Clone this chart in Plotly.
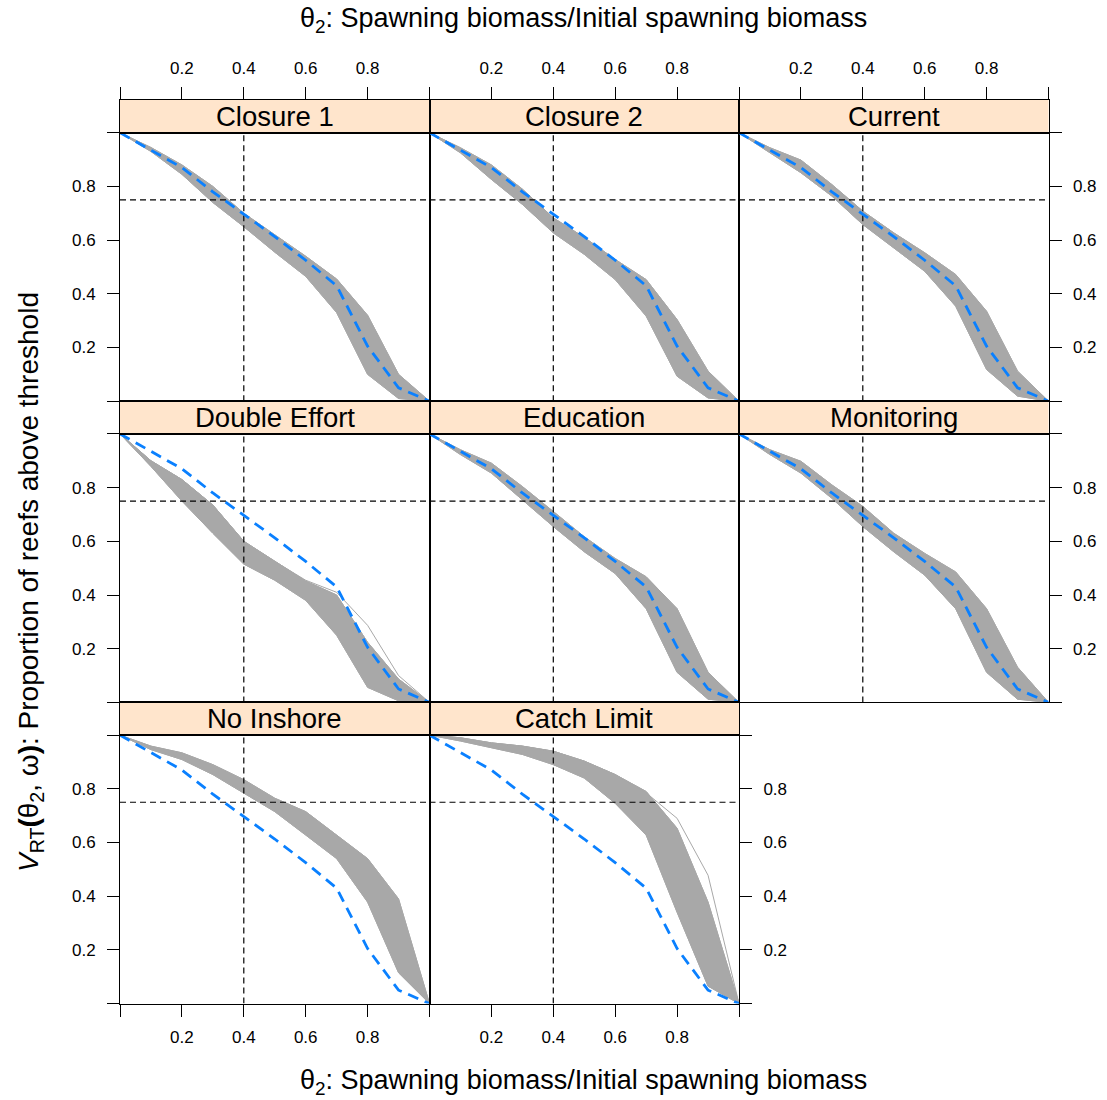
import plotly.graph_objects as go

# ---------------- data ----------------
theta2 = [0.0, 0.1, 0.2, 0.3, 0.4, 0.5, 0.6, 0.7, 0.8, 0.9, 1.0]

panel_names = ["Closure 1", "Closure 2", "Current", "Double Effort",
               "Education", "Monitoring", "No Inshore", "Catch Limit"]

# baseline (blue dashed) curve, same in every panel
baseline = [1.0, 0.935, 0.87, 0.78, 0.697, 0.613, 0.525, 0.43, 0.205, 0.05, 0.0]

# envelopes of the grey ensemble per panel
closure1_upper = [1.0, 0.945, 0.88, 0.80, 0.70, 0.62, 0.54, 0.455, 0.32, 0.10, 0.0]
closure1_lower = [1.0, 0.93, 0.845, 0.74, 0.65, 0.555, 0.465, 0.33, 0.10, 0.01, 0.0]

closure2_upper = [1.0, 0.944, 0.88, 0.79, 0.683, 0.61, 0.528, 0.453, 0.304, 0.112, 0.0]
closure2_lower = [1.0, 0.925, 0.826, 0.733, 0.627, 0.547, 0.453, 0.317, 0.093, 0.012, 0.0]

current_upper = [1.0, 0.944, 0.898, 0.807, 0.708, 0.627, 0.553, 0.472, 0.335, 0.112, 0.0]
current_lower = [1.0, 0.925, 0.851, 0.764, 0.658, 0.571, 0.484, 0.354, 0.118, 0.019, 0.0]

double_upper = [1.0, 0.90, 0.83, 0.735, 0.60, 0.525, 0.452, 0.40, 0.224, 0.087, 0.0]
double_lower = [1.0, 0.879, 0.75, 0.63, 0.515, 0.455, 0.38, 0.25, 0.056, 0.006, 0.0]
double_outlier = [1.0, 0.90, 0.83, 0.735, 0.60, 0.525, 0.455, 0.41, 0.287, 0.10, 0.0]

education_upper = [1.0, 0.941, 0.891, 0.804, 0.711, 0.617, 0.536, 0.468, 0.349, 0.112, 0.0]
education_lower = [1.0, 0.923, 0.854, 0.754, 0.655, 0.561, 0.48, 0.349, 0.112, 0.012, 0.0]

monitoring_upper = [1.0, 0.941, 0.898, 0.81, 0.73, 0.63, 0.555, 0.486, 0.349, 0.131, 0.0]
monitoring_lower = [1.0, 0.923, 0.854, 0.76, 0.655, 0.561, 0.474, 0.349, 0.112, 0.012, 0.0]

inshore_upper = [1.0, 0.959, 0.934, 0.89, 0.834, 0.765, 0.715, 0.628, 0.54, 0.39, 0.0]
inshore_lower = [1.0, 0.946, 0.909, 0.853, 0.784, 0.715, 0.628, 0.54, 0.378, 0.115, 0.0]

catch_upper = [1.0, 0.99, 0.971, 0.959, 0.94, 0.903, 0.853, 0.79, 0.653, 0.378, 0.0]
catch_lower = [1.0, 0.978, 0.953, 0.928, 0.89, 0.84, 0.746, 0.628, 0.34, 0.065, 0.0]
catch_outlier = [1.0, 0.99, 0.971, 0.959, 0.94, 0.903, 0.853, 0.785, 0.69, 0.478, 0.0]

uppers = [closure1_upper, closure2_upper, current_upper, double_upper,
          education_upper, monitoring_upper, inshore_upper, catch_upper]
lowers = [closure1_lower, closure2_lower, current_lower, double_lower,
          education_lower, monitoring_lower, inshore_lower, catch_lower]
outliers = {3: double_outlier, 7: catch_outlier}

theta_threshold = 0.4
prop_threshold = 0.75

tick_vals = [0.0, 0.2, 0.4, 0.6, 0.8, 1.0]
tick_text = ["", "0.2", "0.4", "0.6", "0.8", ""]

# ---------------- layout geometry ----------------
W, H = 1107, 1100
col_edges = [120, 429.5, 739, 1048.5]
row_top = [100, 401.2, 702.4]
strip_h = 32.7
panel_h = 268.5

FONT = "Liberation Sans, Arial, Helvetica, sans-serif"
GREY = "#A8A8A8"
BLUE = "#0A80FF"

def px_x(p):
    return p / W

def px_y(p):
    return 1 - p / H

fig = go.Figure()
layout = dict(
    width=W, height=H,
    margin=dict(l=0, r=0, t=0, b=0, autoexpand=False),
    paper_bgcolor="white",
    plot_bgcolor="rgba(0,0,0,0)",
    showlegend=False,
    font=dict(family=FONT, color="black", size=17),
)
shapes = []
annotations = []

for i, name in enumerate(panel_names):
    r, c = divmod(i, 3)
    n = i + 1          # panel axes
    s = i + 9          # strip axes
    x0, x1 = px_x(col_edges[c]), px_x(col_edges[c + 1])
    st = row_top[r]
    sb = st + strip_h
    pb = sb + panel_h
    pdom = [px_y(pb), px_y(sb)]
    sdom = [px_y(sb), px_y(st)]

    xa = f"x{n}"
    ya = f"y{n}"

    # grey ensemble band
    up, lo = uppers[i], lowers[i]
    fig.add_trace(go.Scatter(
        x=theta2 + theta2[::-1], y=up + lo[::-1],
        mode="lines", fill="toself", fillcolor=GREY,
        line=dict(color=GREY, width=1), hoverinfo="skip",
        xaxis=xa, yaxis=ya))
    for arr in (up, lo):
        fig.add_trace(go.Scatter(x=theta2, y=arr, mode="lines",
                                 line=dict(color=GREY, width=1),
                                 hoverinfo="skip", xaxis=xa, yaxis=ya))
    if i in outliers:
        fig.add_trace(go.Scatter(x=theta2, y=outliers[i], mode="lines",
                                 line=dict(color=GREY, width=1),
                                 hoverinfo="skip", xaxis=xa, yaxis=ya))

    # reference lines
    fig.add_trace(go.Scatter(x=[theta_threshold, theta_threshold], y=[0, 1],
                             mode="lines",
                             line=dict(color="black", width=1.2, dash="6px,4px"),
                             hoverinfo="skip", xaxis=xa, yaxis=ya))
    fig.add_trace(go.Scatter(x=[0, 1], y=[prop_threshold, prop_threshold],
                             mode="lines",
                             line=dict(color="black", width=1.2, dash="6px,4px"),
                             hoverinfo="skip", xaxis=xa, yaxis=ya))

    # baseline
    fig.add_trace(go.Scatter(x=theta2, y=baseline, mode="lines",
                             line=dict(color=BLUE, width=2.8, dash="11px,7px"),
                             hoverinfo="skip", xaxis=xa, yaxis=ya))

    # panel axes
    bottom = (r == 2)
    xaxis = dict(domain=[x0, x1], range=[0, 1], anchor=ya, automargin=False,
                 showline=True, mirror=True, linecolor="black", linewidth=1,
                 showgrid=False, zeroline=False, fixedrange=True)
    if bottom:
        xaxis.update(ticks="outside", ticklen=12, tickwidth=1, tickcolor="black",
                     tickvals=tick_vals, ticktext=tick_text,
                     showticklabels=True, ticklabelstandoff=6,
                     tickfont=dict(size=17, family=FONT, color="black"))
    else:
        xaxis.update(ticks="", showticklabels=False)

    yaxis = dict(domain=pdom, range=[0, 1], anchor=xa, automargin=False,
                 showline=True, mirror=True, linecolor="black", linewidth=1,
                 showgrid=False, zeroline=False, fixedrange=True)
    if c == 0:
        yaxis.update(side="left", ticks="outside", ticklen=12, tickwidth=1,
                     tickcolor="black", tickvals=tick_vals, ticktext=tick_text,
                     showticklabels=True, ticklabelstandoff=8,
                     tickfont=dict(size=17, family=FONT, color="black"))
    elif c == 2 or i == 7:
        yaxis.update(side="right", ticks="outside", ticklen=12, tickwidth=1,
                     tickcolor="black", tickvals=tick_vals, ticktext=tick_text,
                     showticklabels=True, ticklabelstandoff=8,
                     tickfont=dict(size=17, family=FONT, color="black"))
    else:
        yaxis.update(ticks="", showticklabels=False)

    layout[f"xaxis{n}"] = xaxis
    layout[f"yaxis{n}"] = yaxis

    # strip axes
    sxa, sya = f"x{s}", f"y{s}"
    fig.add_trace(go.Scatter(x=[0.5], y=[0.5], mode="markers",
                             marker=dict(opacity=0), hoverinfo="skip",
                             xaxis=sxa, yaxis=sya))
    sx = dict(domain=[x0, x1], range=[0, 1], anchor=sya, automargin=False,
              showline=True, mirror=True, linecolor="black", linewidth=1,
              showgrid=False, zeroline=False, fixedrange=True)
    if r == 0:
        sx.update(side="top", ticks="outside", ticklen=12, tickwidth=1,
                  tickcolor="black", tickvals=tick_vals, ticktext=tick_text,
                  showticklabels=True, ticklabelstandoff=6,
                  tickfont=dict(size=17, family=FONT, color="black"))
    else:
        sx.update(ticks="", showticklabels=False)
    sy = dict(domain=sdom, range=[0, 1], anchor=sxa, automargin=False,
              showline=True, mirror=True, linecolor="black", linewidth=1,
              showgrid=False, zeroline=False, ticks="", showticklabels=False,
              fixedrange=True)
    layout[f"xaxis{s}"] = sx
    layout[f"yaxis{s}"] = sy

    shapes.append(dict(type="rect", xref=f"{sxa} domain", yref=f"{sya} domain",
                       x0=0, x1=1, y0=0, y1=1, fillcolor="#FFE5CC",
                       line=dict(width=0), layer="below"))
    annotations.append(dict(text=name, xref="paper", yref="paper",
                            x=(x0 + x1) / 2, y=(sdom[0] + sdom[1]) / 2,
                            xanchor="center", yanchor="middle", showarrow=False,
                            font=dict(size=27.5, family=FONT, color="black")))

xtitle = "θ<sub>2</sub>: Spawning biomass/Initial spawning biomass"
annotations.append(dict(text=xtitle, xref="paper", yref="paper",
                        x=px_x(584), y=px_y(20), xanchor="center", yanchor="middle",
                        showarrow=False, font=dict(size=27, family=FONT, color="black")))
annotations.append(dict(text=xtitle, xref="paper", yref="paper",
                        x=px_x(584), y=px_y(1082), xanchor="center", yanchor="middle",
                        showarrow=False, font=dict(size=27, family=FONT, color="black")))
annotations.append(dict(text="<i>V</i><sub>RT</sub><b>(</b>θ<sub>2</sub>, ω<b>)</b>: Proportion of reefs above threshold",
                        xref="paper", yref="paper", x=px_x(30), y=px_y(582),
                        xanchor="center", yanchor="middle", textangle=-90,
                        showarrow=False, font=dict(size=28, family=FONT, color="black")))

layout["shapes"] = shapes
layout["annotations"] = annotations
fig.update_layout(**layout)
fig.write_html("out.html")
